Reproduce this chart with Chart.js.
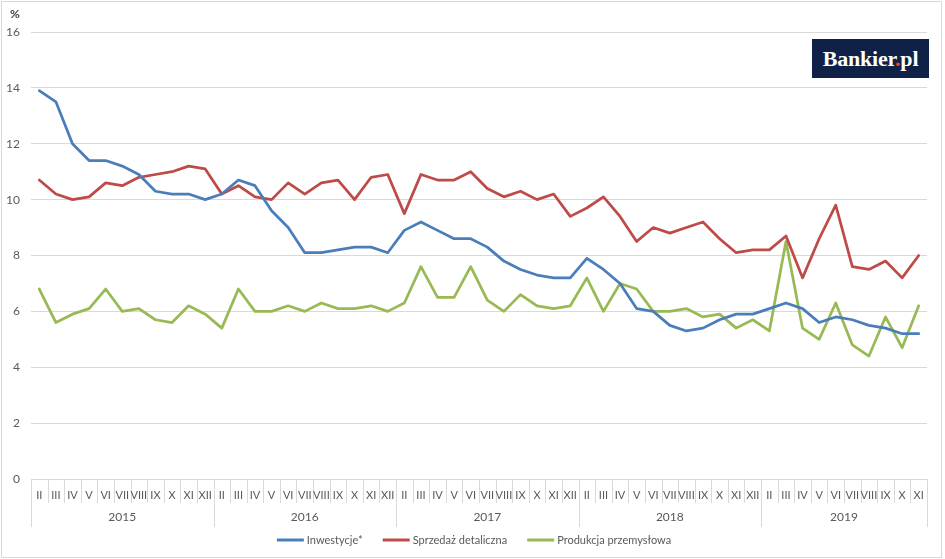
<!DOCTYPE html>
<html>
<head>
<meta charset="utf-8">
<script src="https://cdn.jsdelivr.net/npm/chart.js@4"></script>
<style>
  html, body { margin: 0; padding: 0; background: #fff; }
  #wrap { position: relative; width: 945px; height: 559px; }
  #frame { position: absolute; left: 1px; top: 1px; width: 939px; height: 555px; border: 1px solid #d9d9d9; pointer-events: none; }
  #logo { position: absolute; left: 812px; top: 39px; width: 117px; height: 39px; background: #0f2147; color: #fff;
          font-family: "Liberation Serif", serif; font-weight: bold; font-size: 22px; line-height: 39px; text-align: center; letter-spacing: -0.2px; }
  #logo span { color: #e5462b; }
  #pct { position: absolute; left: 10px; top: 6px; font-family: Lato, "Open Sans", sans-serif; font-weight: bold; font-size: 12px; color: #404040; }
</style>
</head>
<body>
<div id="wrap">
  <canvas id="c" width="945" height="559"></canvas>
  <div id="frame"></div>
  <div id="pct">%</div>
  <div id="logo">Bankier<span>.</span>pl</div>
</div>
<script>
const years = ['2015', '2016', '2017', '2018', '2019'];
const monthNames = ['II', 'III', 'IV', 'V', 'VI', 'VII', 'VIII', 'IX', 'X', 'XI', 'XII'];
const monthsInYear = [11, 11, 11, 11, 10];

const seriesNames = ['Inwestycje*', 'Sprzedaż detaliczna', 'Produkcja przemysłowa'];

const inwestycje = [
  13.9, 13.5, 12.0, 11.4, 11.4, 11.2, 10.9, 10.3, 10.2, 10.2, 10.0,
  10.2, 10.7, 10.5, 9.6, 9.0, 8.1, 8.1, 8.2, 8.3, 8.3, 8.1,
  8.9, 9.2, 8.9, 8.6, 8.6, 8.3, 7.8, 7.5, 7.3, 7.2, 7.2,
  7.9, 7.5, 7.0, 6.1, 6.0, 5.5, 5.3, 5.4, 5.7, 5.9, 5.9,
  6.1, 6.3, 6.1, 5.6, 5.8, 5.7, 5.5, 5.4, 5.2, 5.2
];
const sprzedaz = [
  10.7, 10.2, 10.0, 10.1, 10.6, 10.5, 10.8, 10.9, 11.0, 11.2, 11.1,
  10.2, 10.5, 10.1, 10.0, 10.6, 10.2, 10.6, 10.7, 10.0, 10.8, 10.9,
  9.5, 10.9, 10.7, 10.7, 11.0, 10.4, 10.1, 10.3, 10.0, 10.2, 9.4,
  9.7, 10.1, 9.4, 8.5, 9.0, 8.8, 9.0, 9.2, 8.6, 8.1, 8.2,
  8.2, 8.7, 7.2, 8.6, 9.8, 7.6, 7.5, 7.8, 7.2, 8.0
];
const produkcja = [
  6.8, 5.6, 5.9, 6.1, 6.8, 6.0, 6.1, 5.7, 5.6, 6.2, 5.9,
  5.4, 6.8, 6.0, 6.0, 6.2, 6.0, 6.3, 6.1, 6.1, 6.2, 6.0,
  6.3, 7.6, 6.5, 6.5, 7.6, 6.4, 6.0, 6.6, 6.2, 6.1, 6.2,
  7.2, 6.0, 7.0, 6.8, 6.0, 6.0, 6.1, 5.8, 5.9, 5.4, 5.7,
  5.3, 8.5, 5.4, 5.0, 6.3, 4.8, 4.4, 5.8, 4.7, 6.2
];
const colors = ['#4a7ebb', '#be4b48', '#98b954'];

// build category labels and year groups from the arrays above
const labels = [];
const yearGroups = [];
years.forEach((y, yi) => {
  const start = labels.length;
  for (let m = 0; m < monthsInYear[yi]; m++) labels.push(monthNames[m]);
  yearGroups.push({ year: y, start: start, end: labels.length - 1 });
});

const FONT = 'Lato, "Open Sans", sans-serif';
const TXT = '#595959';
const GRID = '#d9d9d9';

const axisPlugin = {
  id: 'axisPlugin',
  afterDraw(chart) {
    const ctx = chart.ctx;
    const xs = chart.scales.x;
    const bottom = chart.chartArea.bottom;
    const n = labels.length;
    const half = (xs.getPixelForValue(1) - xs.getPixelForValue(0)) / 2;
    const boundary = i => (i < n ? xs.getPixelForValue(i) - half : xs.getPixelForValue(n - 1) + half);
    const yearStarts = new Set(yearGroups.map(g => g.start));
    yearStarts.add(n);
    ctx.save();
    ctx.strokeStyle = GRID;
    ctx.lineWidth = 1;
    for (let i = 0; i <= n; i++) {
      const x = Math.round(boundary(i)) + 0.5;
      const len = yearStarts.has(i) ? 48 : 24;
      ctx.beginPath();
      ctx.moveTo(x, bottom);
      ctx.lineTo(x, bottom + len);
      ctx.stroke();
    }
    ctx.fillStyle = TXT;
    ctx.textAlign = 'center';
    ctx.textBaseline = 'middle';
    ctx.font = '11px ' + FONT;
    for (let i = 0; i < n; i++) {
      ctx.fillText(labels[i], xs.getPixelForValue(i), bottom + 16);
    }
    ctx.font = '12px ' + FONT;
    yearGroups.forEach(g => {
      const cx = (boundary(g.start) + boundary(g.end + 1)) / 2;
      ctx.fillText(g.year, cx, bottom + 38);
    });

    // legend
    ctx.font = '11px ' + FONT;
    const lineLen = 27, gapT = 3, gapItem = 20;
    const widths = chart.data.datasets.map(d => ctx.measureText(d.label).width);
    let total = 0;
    widths.forEach((w, i) => { total += lineLen + gapT + w + (i < widths.length - 1 ? gapItem : 0); });
    let x = 474 - total / 2;
    const ly = 540;
    ctx.textAlign = 'left';
    chart.data.datasets.forEach((d, i) => {
      ctx.strokeStyle = d.borderColor;
      ctx.lineWidth = 3;
      ctx.beginPath();
      ctx.moveTo(x, ly);
      ctx.lineTo(x + lineLen, ly);
      ctx.stroke();
      ctx.fillStyle = TXT;
      ctx.fillText(d.label, x + lineLen + gapT, ly);
      x += lineLen + gapT + widths[i] + gapItem;
    });
    ctx.restore();
  }
};

new Chart(document.getElementById('c'), {
  type: 'line',
  data: {
    labels: labels,
    datasets: [
      { label: seriesNames[0], data: inwestycje, borderColor: colors[0] },
      { label: seriesNames[1], data: sprzedaz, borderColor: colors[1] },
      { label: seriesNames[2], data: produkcja, borderColor: colors[2] }
    ].map(d => Object.assign(d, { borderWidth: 2.75, pointRadius: 0, tension: 0, fill: false, borderJoinStyle: 'round', borderCapStyle: 'round' }))
  },
  options: {
    responsive: false,
    animation: false,
    devicePixelRatio: 1,
    layout: { padding: { left: 0, right: 18, top: 32, bottom: 0 } },
    plugins: { legend: { display: false }, tooltip: { enabled: false } },
    scales: {
      x: {
        offset: true,
        ticks: { display: false },
        grid: { display: false },
        border: { display: false },
        afterFit(s) { s.height = 80; }
      },
      y: {
        min: 0, max: 16,
        ticks: { stepSize: 2, color: TXT, font: { family: FONT, size: 12 }, padding: 11 },
        grid: { color: GRID, drawTicks: false },
        border: { display: false },
        afterFit(s) { s.width = 31; }
      }
    }
  },
  plugins: [axisPlugin]
});
</script>
</body>
</html>
